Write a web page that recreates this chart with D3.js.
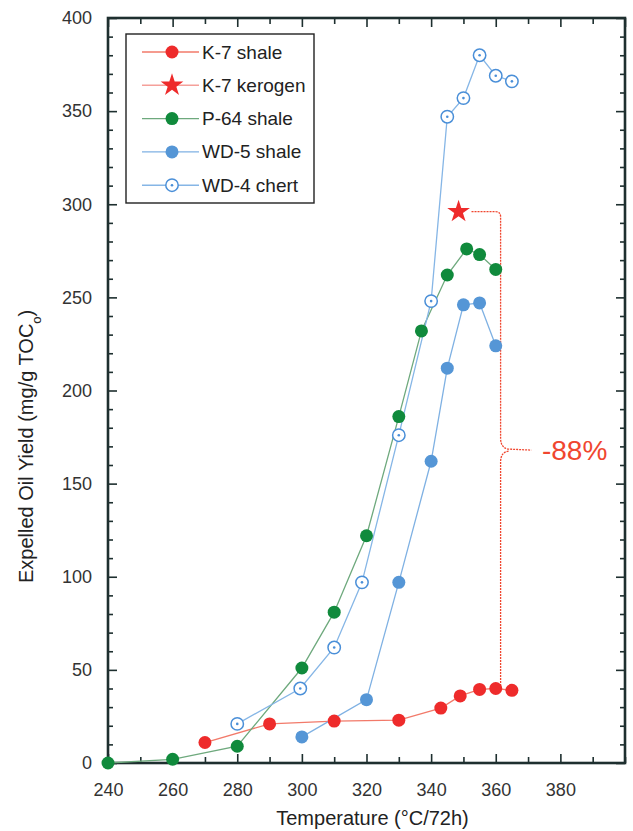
<!DOCTYPE html>
<html lang="en">
<head>
<meta charset="utf-8">
<script type="text/javascript" src="https://cdn.jsdelivr.net/npm/d3@7/dist/d3.min.js"></script>
<title>Expelled Oil Yield vs Temperature</title>
<style>
  body { margin: 0; background: #fff; }
  text { font-family: "Liberation Sans", Arial, sans-serif; }
</style>
</head>
<body>
<svg width="633" height="831"></svg>
<script type="text/javascript">

// ---- data ----
var k7ShaleT     = [270, 290, 310, 330, 343, 349, 355, 360, 365];
var k7ShaleYield = [11, 21, 22.5, 23, 29.5, 36, 39.5, 40, 39];

var k7KerogenT     = [348.5];
var k7KerogenYield = [296];

var p64ShaleT     = [240, 260, 280, 300, 310, 320, 330, 337, 345, 351, 355, 360];
var p64ShaleYield = [0, 2, 9, 51, 81, 122, 186, 232, 262, 276, 273, 265];

var wd5ShaleT     = [300, 320, 330, 340, 345, 350, 355, 360];
var wd5ShaleYield = [14, 34, 97, 162, 212, 246, 247, 224];

var wd4ChertT     = [280, 299.5, 310, 318.6, 330, 340, 345, 350, 355, 360, 365];
var wd4ChertYield = [21, 40, 62, 97, 176, 248, 347, 357, 380, 369, 366];

var xTicks = [240, 260, 280, 300, 320, 340, 360, 380];
var yTicks = [0, 50, 100, 150, 200, 250, 300, 350, 400];

var bracketX   = 361.5;     // vertical of the -88% bracket
var bracketTop = 296;       // kerogen yield
var bracketBot = 40;        // K-7 shale at 360
var dropLabel  = "-88%";

var margin = {top: 18, right: 8, bottom: 68, left: 108};
var width  = 633 - margin.left - margin.right;
var height = 831 - margin.top - margin.bottom;

var svg = d3.select("svg")
  .append("g")
  .attr("transform", "translate(" + margin.left + "," + margin.top + ")");

var x = d3.scaleLinear().domain([240, 400]).range([0, width]);
var y = d3.scaleLinear().domain([0, 400]).range([height, 0]);

function zip(a, b) { return a.map(function(v, i) { return [v, b[i]]; }); }

var frameColor = "#1e2f2f";

// ---- ticks (inward, on all four sides) ----
var xMinor = d3.range(250, 400, 20);
var yMinor = d3.range(0, 401, 10).filter(function(v) { return v % 50 != 0; });

svg.append("g").attr("transform", "translate(0," + height + ")")
  .call(d3.axisBottom(x).tickValues(xTicks).tickSize(-9).tickPadding(20).tickFormat(d3.format("d")))
  .call(function(g) { g.select(".domain").remove(); });
svg.append("g").attr("transform", "translate(0," + height + ")")
  .call(d3.axisBottom(x).tickValues(xMinor.concat([400])).tickSize(-6).tickFormat(""))
  .call(function(g) { g.select(".domain").remove(); });
svg.append("g")
  .call(d3.axisTop(x).tickValues(xTicks.concat([400])).tickSize(-9).tickFormat(""))
  .call(function(g) { g.select(".domain").remove(); });
svg.append("g")
  .call(d3.axisTop(x).tickValues(xMinor).tickSize(-6).tickFormat(""))
  .call(function(g) { g.select(".domain").remove(); });

svg.append("g")
  .call(d3.axisLeft(y).tickValues(yTicks).tickSize(-9).tickPadding(16))
  .call(function(g) { g.select(".domain").remove(); });
svg.append("g")
  .call(d3.axisLeft(y).tickValues(yMinor).tickSize(-5).tickFormat(""))
  .call(function(g) { g.select(".domain").remove(); });
svg.append("g").attr("transform", "translate(" + width + ",0)")
  .call(d3.axisRight(y).tickValues(yTicks).tickSize(-9).tickFormat(""))
  .call(function(g) { g.select(".domain").remove(); });
svg.append("g").attr("transform", "translate(" + width + ",0)")
  .call(d3.axisRight(y).tickValues(yMinor).tickSize(-5).tickFormat(""))
  .call(function(g) { g.select(".domain").remove(); });

svg.selectAll(".tick line").attr("stroke", frameColor).attr("stroke-width", 1.6);
svg.selectAll(".tick text").attr("fill", "#333").style("font-size", "18px")
  .style("font-family", "'Liberation Sans', Arial, sans-serif");

svg.append("rect")
  .attr("width", width).attr("height", height)
  .attr("fill", "none").attr("stroke", frameColor).attr("stroke-width", 2.6);

// ---- axis titles ----
svg.append("text")
  .attr("x", x(320) + 6).attr("y", height + 62)
  .attr("text-anchor", "middle").attr("fill", "#222").style("font-size", "20px")
  .text("Temperature (°C/72h)");

var yt = svg.append("text")
  .attr("transform", "translate(-75," + (y(170)) + ") rotate(-90)")
  .attr("text-anchor", "middle").attr("fill", "#222").style("font-size", "20px");
yt.append("tspan").text("Expelled Oil Yield (mg/g TOC");
yt.append("tspan").attr("baseline-shift", "sub").style("font-size", "13px").text("o");
yt.append("tspan").text(")");

// ---- bracket ----
var bx = x(bracketX), yt0 = y(bracketTop), yb0 = y(bracketBot), ym = y((bracketTop + bracketBot) / 2);
var bp = d3.path();
bp.moveTo(x(352.5), yt0);
bp.lineTo(bx - 5, yt0);
bp.quadraticCurveTo(bx, yt0, bx, yt0 + 5);
bp.lineTo(bx, ym - 12);
bp.quadraticCurveTo(bx, ym - 2, bx + 8, ym - 1);
bp.lineTo(x(371), ym);
bp.moveTo(bx + 8, ym + 1);
bp.quadraticCurveTo(bx, ym + 2, bx, ym + 12);
bp.lineTo(bx, yb0);
svg.append("path").attr("d", bp.toString())
  .attr("fill", "none").attr("stroke", "#f0462f").attr("stroke-width", 1.3)
  .attr("stroke-dasharray", "2,1");

svg.append("text")
  .attr("x", x(374.3)).attr("y", ym + 10)
  .attr("fill", "#f0462f").style("font-size", "28px")
  .text(dropLabel);

// ---- series ----
var series = [
  {name: "K-7 shale",   pts: zip(k7ShaleT, k7ShaleYield),     line: "#f27a6a", mark: "#ee2b2b", type: "dot"},
  {name: "K-7 kerogen", pts: zip(k7KerogenT, k7KerogenYield), line: "#f5a09a", mark: "#ee2b2b", type: "star"},
  {name: "P-64 shale",  pts: zip(p64ShaleT, p64ShaleYield),   line: "#6ea97d", mark: "#108a3c", type: "dot"},
  {name: "WD-5 shale",  pts: zip(wd5ShaleT, wd5ShaleYield),   line: "#7fb1e3", mark: "#5596d6", type: "dot"},
  {name: "WD-4 chert",  pts: zip(wd4ChertT, wd4ChertYield),   line: "#86b6e6", mark: "#4a8fd8", type: "ring"}
];

var line = d3.line().x(function(d) { return x(d[0]); }).y(function(d) { return y(d[1]); });

function drawMarker(g, type, color) {
  if (type == "dot") {
    g.append("circle").attr("r", 6.5).attr("fill", color);
  } else if (type == "star") {
    g.append("path").attr("d", d3.symbol().type(d3.symbolStar).size(160)()).attr("fill", color);
  } else {
    g.append("circle").attr("r", 6.2).attr("fill", "#fff").attr("stroke", color).attr("stroke-width", 1.5);
    g.append("circle").attr("r", 1.3).attr("fill", color);
  }
}

var order = [0, 2, 4, 3, 1];
order.forEach(function(i) {
  var s = series[i];
  if (s.pts.length > 1) {
    svg.append("path").attr("d", line(s.pts))
      .attr("fill", "none").attr("stroke", s.line).attr("stroke-width", 1.3);
  }
});
order.forEach(function(i) {
  var s = series[i];
  s.pts.forEach(function(d) {
    var g = svg.append("g").attr("transform", "translate(" + x(d[0]) + "," + y(d[1]) + ")");
    drawMarker(g, s.type, s.mark);
  });
});

// ---- legend ----
var legend = svg.append("g").attr("transform", "translate(" + (126 - margin.left) + "," + (34 - margin.top) + ")");
legend.append("rect").attr("width", 188).attr("height", 169)
  .attr("fill", "#fff").attr("stroke", "#222").attr("stroke-width", 1.4);

series.forEach(function(s, i) {
  var row = legend.append("g").attr("transform", "translate(0," + (18 + i * 33.3) + ")");
  row.append("line").attr("x1", 16).attr("x2", 73)
    .attr("stroke", s.line).attr("stroke-width", 1.4);
  drawMarker(row.append("g").attr("transform", "translate(46,0)"), s.type, s.mark);
  row.append("text").attr("x", 76).attr("y", 6.5)
    .attr("fill", "#222").style("font-size", "19px").text(s.name);
});

</script>
</body>
</html>
